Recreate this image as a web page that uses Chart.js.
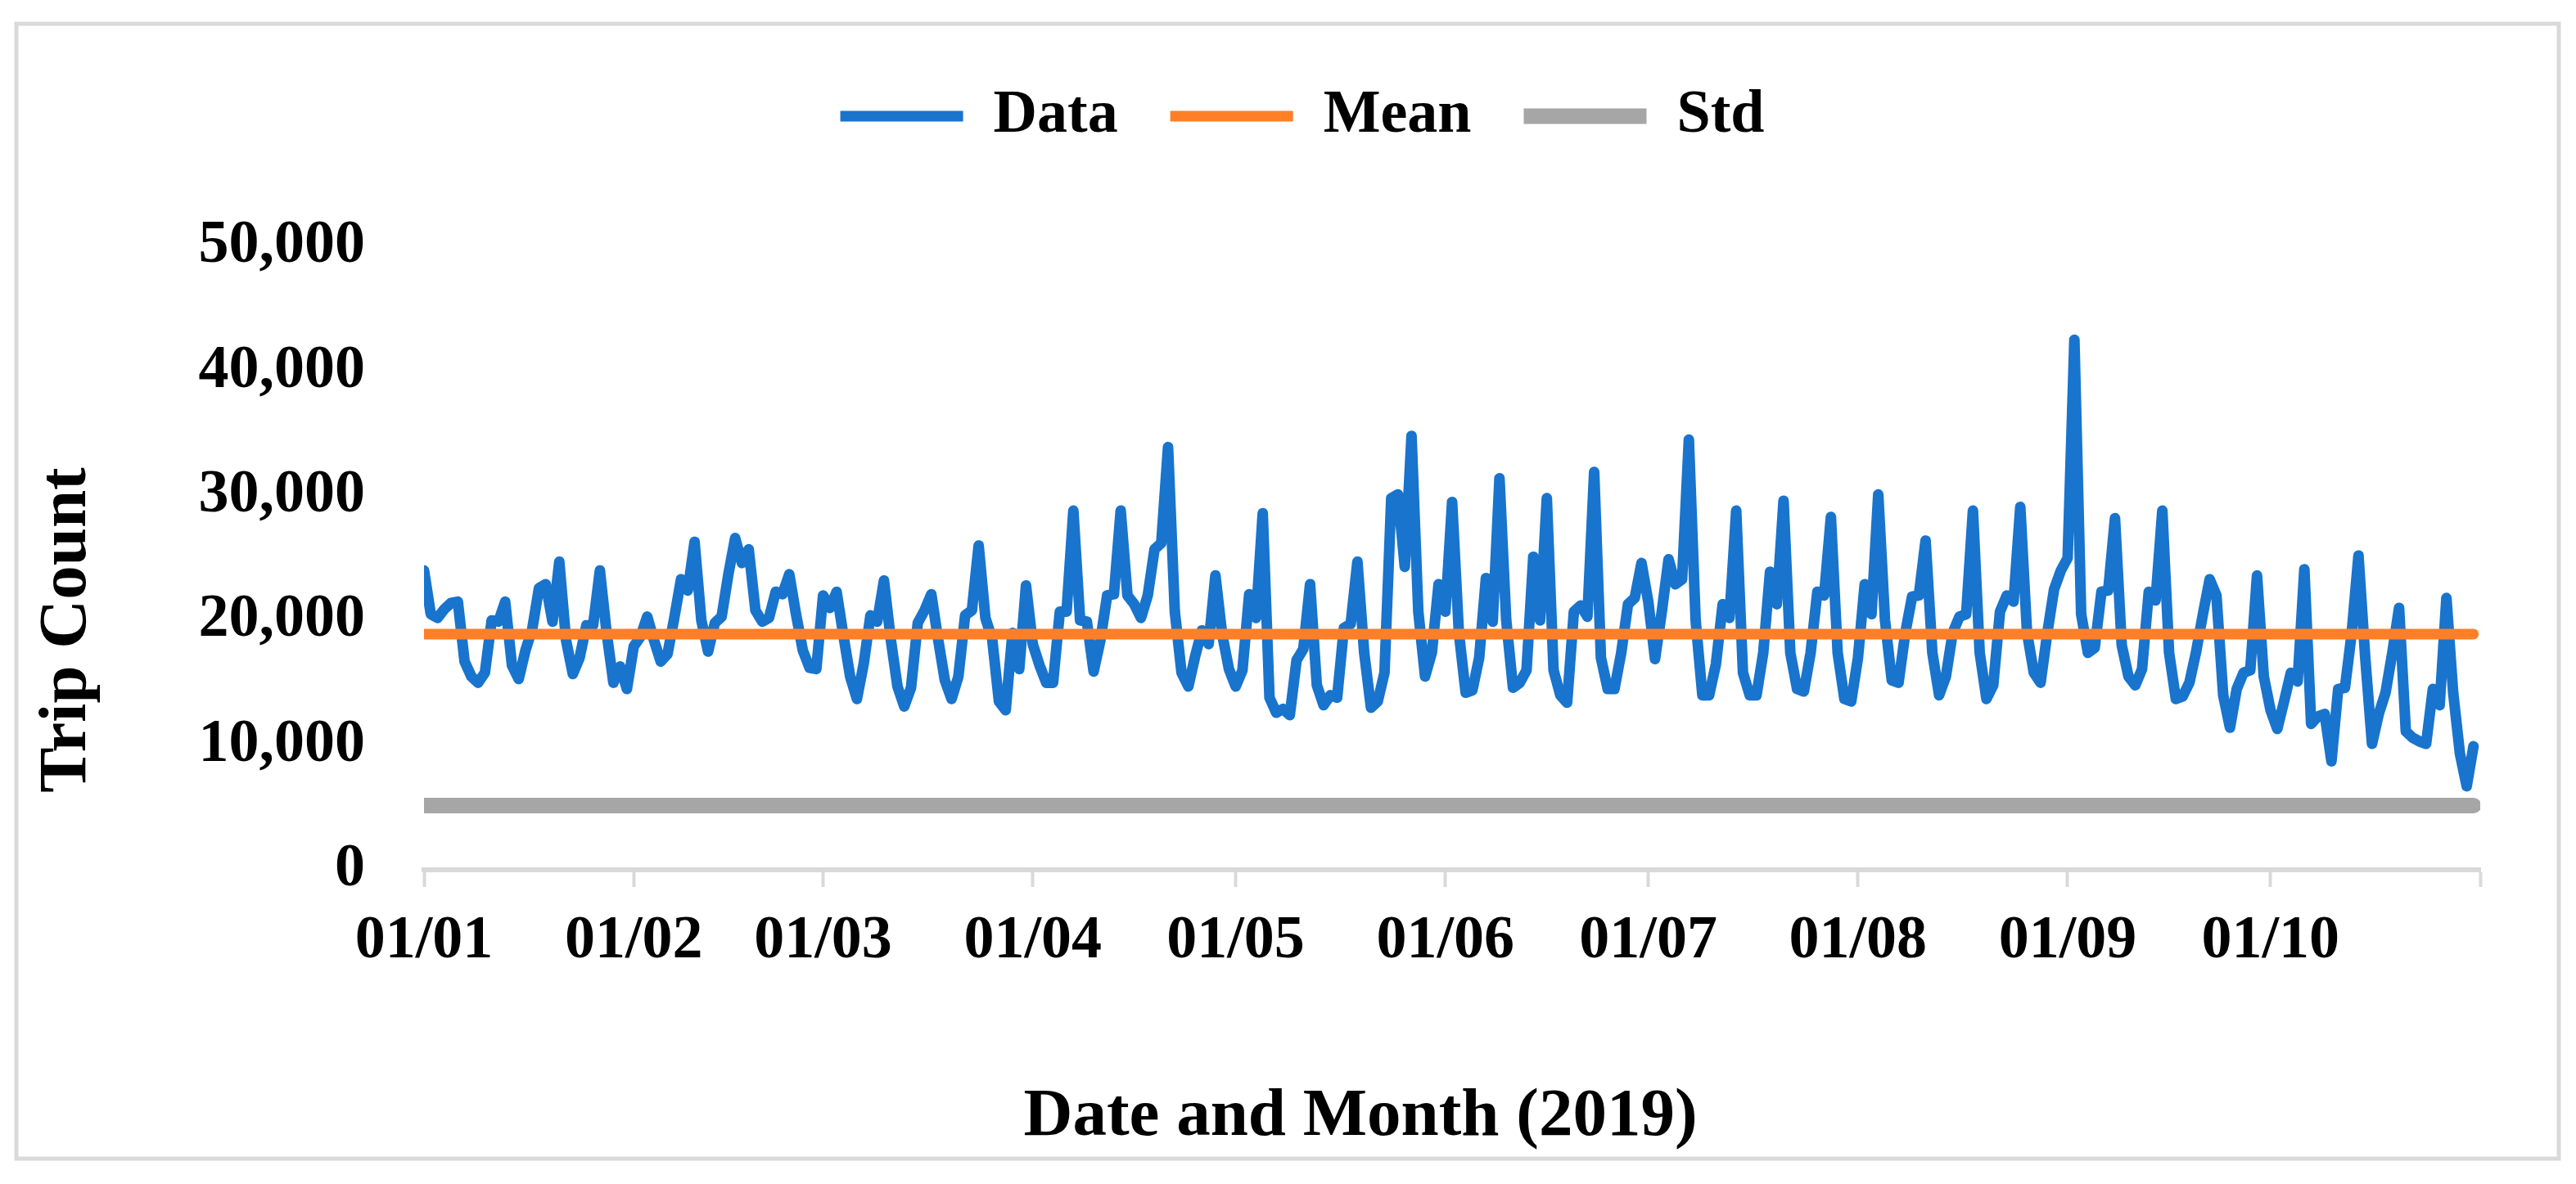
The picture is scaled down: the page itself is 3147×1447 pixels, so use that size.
<!DOCTYPE html>
<html lang="en">
<head>
    <meta charset="UTF-8">
    <title>Trip Count 2019</title>
    <script src="https://cdn.jsdelivr.net/npm/chart.js"></script>
    <style>
        * { margin: 0; padding: 0; box-sizing: border-box; }
        body { background: #fff; width: 3147px; height: 1447px; overflow: hidden; }
        canvas { display: block; }
    </style>
</head>
<body>
    <canvas id="tripChart" width="3147" height="1447" style="width:3147px;height:1447px"></canvas>

    <script>
        // Daily trip counts, one array per month
        const jan = [24000, 20500, 20200, 20900, 21400, 21500, 16700, 15500, 15000, 15800, 20000, 19900, 21500, 16400, 15300, 17600,
                     19300, 22600, 22900, 19900, 24700, 18400, 15700, 17000, 19600, 19600, 24000, 19000, 15000, 16300, 14500];
        const feb = [17900, 18700, 20300, 18400, 16700, 17300, 20200, 23300, 22400, 26300, 20000, 17500, 19800, 20300,
                     23700, 26600, 24600, 25700, 20800, 19900, 20200, 22300, 22100, 23700, 20500, 17600, 16200, 16100];
        const mar = [22000, 21000, 22300, 18800, 15500, 13700, 16500, 20400, 19900, 23200, 18500, 14700, 13100, 14600, 19800, 20800,
                     22100, 18500, 15200, 13700, 15500, 20400, 20800, 26000, 20200, 18500, 13500, 12800, 19000, 16100, 22800];
        const apr = [18100, 16400, 15000, 15000, 20700, 20700, 28800, 20000, 19900, 15900, 18400, 22000, 22100, 28800, 22000,
                     21300, 20200, 22000, 25700, 26200, 33900, 20700, 15800, 14700, 17100, 19200, 18100, 23600, 18900, 16100];
        const may = [14700, 16000, 22100, 20200, 28600, 13800, 12600, 12900, 12400, 16800, 17700, 22900, 14800, 13200, 14000, 13800,
                     19400, 19700, 24700, 17400, 13000, 13500, 15800, 29800, 30100, 24300, 34800, 20700, 15500, 17400, 22900];
        const jun = [20700, 29500, 19000, 14200, 14400, 17000, 23400, 19900, 31400, 20000, 14600, 15000, 16000, 25100, 20000,
                     29800, 16000, 14000, 13400, 20700, 21200, 20300, 31900, 17000, 14500, 14500, 17400, 21300, 21800, 24600];
        const jul = [21500, 16900, 20700, 24900, 22900, 23300, 34500, 20000, 14000, 14000, 16500, 21300, 20200, 28800, 15800, 14000,
                     14000, 17400, 23900, 21300, 29600, 17400, 14500, 14300, 17400, 22300, 22000, 28300, 17400, 13700, 13500];
        const aug = [17000, 22900, 20500, 30100, 20000, 15200, 15000, 19000, 21900, 22000, 26400, 17400, 14000, 15500, 19000, 20300,
                     20500, 28800, 17400, 13700, 14800, 20700, 22000, 21500, 29100, 19000, 15800, 15000, 19000, 22500, 24000];
        const sep = [25000, 42500, 20500, 17400, 17800, 22300, 22400, 28200, 18000, 15500, 14800, 16100, 22300, 21600, 28800,
                     17400, 13700, 13900, 15000, 17500, 20500, 23300, 22000, 14000, 11400, 14500, 15800, 16000, 23600, 15500];
        const oct = [12800, 11300, 13500, 15800, 15100, 24100, 11700, 12300, 12500, 8700, 14500, 14600, 19000, 25200, 17000, 10100,
                     12500, 14200, 17400, 21000, 11100, 10600, 10300, 10100, 14500, 13200, 21800, 14200, 9300, 6700, 9900];

        const months = [jan, feb, mar, apr, may, jun, jul, aug, sep, oct];
        const monthLabels = ['01/01', '01/02', '01/03', '01/04', '01/05', '01/06', '01/07', '01/08', '01/09', '01/10'];
        const yTicks = [0, 10000, 20000, 30000, 40000, 50000];
        const MEAN = 18900;
        const STD = 5150;

        const tripCounts = months.flat();
        const monthStarts = [0];
        months.forEach(m => monthStarts.push(monthStarts[monthStarts.length - 1] + m.length));
        const lastDay = tripCounts.length - 1;

        const FONT = "'Liberation Serif', 'Times New Roman', serif";
        Chart.defaults.font.family = FONT;
        Chart.defaults.font.weight = 'bold';
        Chart.defaults.color = '#000';

        // light grey frame, white page, axis titles
        const frameAndTitles = {
            id: 'frameAndTitles',
            beforeInit(chart) {
                // push the plot area down below the legend
                const fit = chart.legend.fit;
                chart.legend.fit = function () {
                    fit.call(this);
                    this.height += 112;
                };
            },
            beforeDraw(chart) {
                const ctx = chart.ctx;
                ctx.save();
                ctx.fillStyle = '#fff';
                ctx.fillRect(0, 0, chart.width, chart.height);
                ctx.strokeStyle = '#d9d9d9';
                ctx.lineWidth = 5;
                ctx.strokeRect(20, 29, 3106, 1387);
                ctx.restore();
            },
            afterDraw(chart) {
                const ctx = chart.ctx;
                ctx.save();
                ctx.fillStyle = '#000';
                ctx.font = 'bold 83px ' + FONT;
                ctx.textAlign = 'center';
                ctx.textBaseline = 'alphabetic';
                ctx.fillText('Date and Month (2019)', 1662, 1387);
                ctx.translate(104, 770);
                ctx.rotate(-Math.PI / 2);
                ctx.fillText('Trip Count', 0, 0);
                ctx.restore();
            }
        };

        const ctx = document.getElementById('tripChart').getContext('2d');
        new Chart(ctx, {
            type: 'line',
            data: {
                datasets: [
                    {
                        label: 'Data',
                        data: tripCounts.map((v, i) => ({ x: i, y: v })),
                        borderColor: '#1874cd',
                        backgroundColor: '#1874cd',
                        borderWidth: 13,
                        order: 1
                    },
                    {
                        label: 'Mean',
                        data: [{ x: 0, y: MEAN }, { x: lastDay, y: MEAN }],
                        borderColor: '#ff7f27',
                        backgroundColor: '#ff7f27',
                        borderWidth: 13,
                        order: 0
                    },
                    {
                        label: 'Std',
                        data: [{ x: 0, y: STD }, { x: lastDay, y: STD }],
                        borderColor: '#a6a6a6',
                        backgroundColor: '#a6a6a6',
                        borderWidth: 19,
                        order: 2
                    }
                ]
            },
            options: {
                responsive: false,
                animation: false,
                devicePixelRatio: 1,
                layout: { padding: { top: 41, left: 152, right: 117, bottom: 0 } },
                elements: {
                    point: { radius: 0 },
                    line: { tension: 0, borderCapStyle: 'round', borderJoinStyle: 'round', fill: false }
                },
                plugins: {
                    tooltip: { enabled: false },
                    legend: {
                        position: 'top',
                        labels: {
                            font: { size: 74, weight: 'bold' },
                            usePointStyle: true,
                            pointStyle: 'line',
                            pointStyleWidth: 150,
                            padding: 64,
                            sort: (a, b) => a.datasetIndex - b.datasetIndex
                        }
                    }
                },
                scales: {
                    x: {
                        type: 'linear',
                        min: 0,
                        max: monthStarts[monthStarts.length - 1],
                        afterBuildTicks: scale => { scale.ticks = monthStarts.map(v => ({ value: v })); },
                        afterFit: scale => { scale.height = 384; },
                        ticks: {
                            autoSkip: false,
                            maxRotation: 0,
                            minRotation: 0,
                            padding: 22,
                            font: { size: 74, weight: 'bold' },
                            callback: value => {
                                const i = monthStarts.indexOf(value);
                                return i >= 0 && i < monthLabels.length ? monthLabels[i] : '';
                            }
                        },
                        grid: {
                            drawOnChartArea: false,
                            drawTicks: true,
                            tickLength: 21,
                            tickWidth: 4,
                            tickColor: '#d9d9d9',
                            color: '#d9d9d9'
                        },
                        border: { display: true, color: '#d9d9d9', width: 6 }
                    },
                    y: {
                        min: yTicks[0],
                        max: yTicks[yTicks.length - 1],
                        afterBuildTicks: scale => { scale.ticks = yTicks.map(v => ({ value: v })); },
                        afterFit: scale => { scale.width = 366; },
                        ticks: {
                            padding: 72,
                            font: { size: 74, weight: 'bold' },
                            callback: value => value.toLocaleString('en-US')
                        },
                        grid: { display: false, drawTicks: false },
                        border: { display: false }
                    }
                }
            },
            plugins: [frameAndTitles]
        });
    </script>
</body>
</html>
